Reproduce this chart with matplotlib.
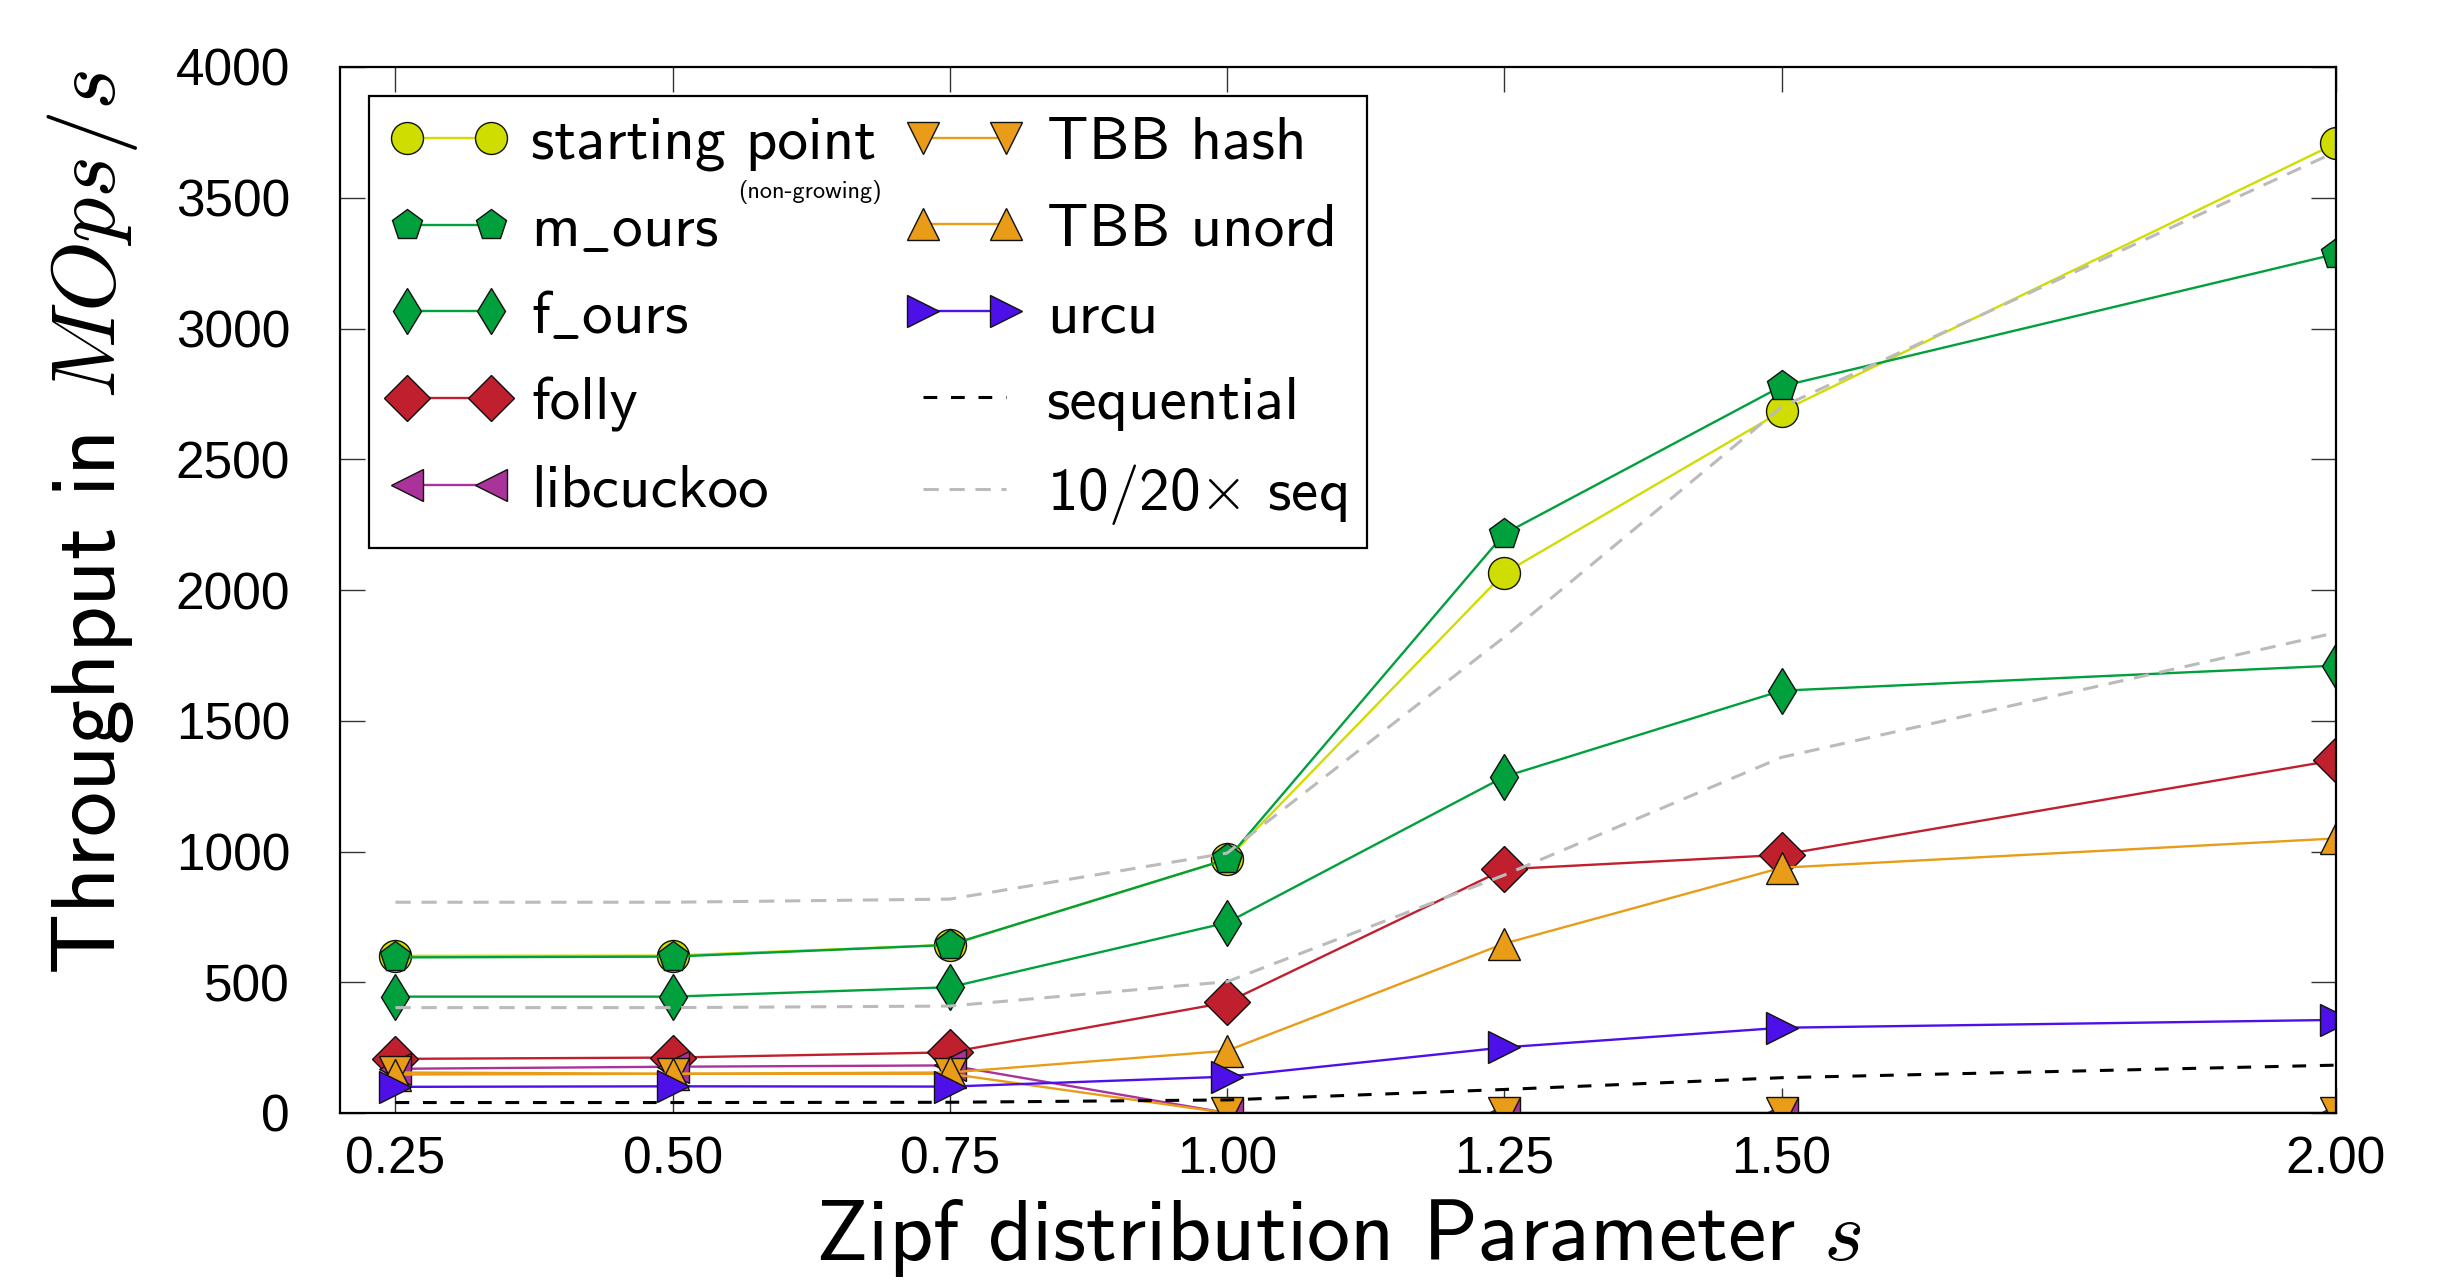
import matplotlib
matplotlib.use('Agg')
import matplotlib.pyplot as plt

plt.rcParams['font.family'] = ['cmss10', 'DejaVu Sans']
plt.rcParams['mathtext.fontset'] = 'cm'
plt.rcParams['axes.unicode_minus'] = False

# ---- data ----
zipf_s = [0.25, 0.50, 0.75, 1.00, 1.25, 1.50, 2.00]
x_tick_labels = ['0.25', '0.50', '0.75', '1.00', '1.25', '1.50', '2.00']
y_ticks = [0, 500, 1000, 1500, 2000, 2500, 3000, 3500, 4000]

starting_point = [601, 602, 643, 970, 2065, 2683, 3708]
m_ours = [595, 598, 643, 970, 2215, 2779, 3285]
f_ours = [445, 445, 481, 728, 1286, 1615, 1711]
folly = [207, 212, 232, 423, 932, 987, 1350]
libcuckoo = [169, 177, 182, 0, 0, 0, 0]
tbb_hash = [155, 150, 150, 0, 0, 0, 0]
tbb_unord = [147, 150, 155, 238, 648, 938, 1050]
urcu = [100, 102, 101, 139, 251, 326, 356]
sequential = [40, 40, 41, 50, 90, 135, 183]
seq_10x = [403, 403, 409, 502, 910, 1360, 1837]
seq_20x = [806, 806, 818, 994, 1820, 2700, 3676]

labels = ['starting point', r'm$\_$ours', r'f$\_$ours', 'folly', 'libcuckoo',
          'TBB hash', 'TBB unord', 'urcu', 'sequential', r'10/20$\times$ seq']

W, H = 2462, 1285
fig = plt.figure(figsize=(W / 100, H / 100), dpi=100)
ax = fig.add_axes([340 / W, 1 - 1113 / H, (2336 - 340) / W, (1113 - 67) / H])

ms = 23
lw = 1.7
mew = 1.0
series = [
    (starting_point, labels[0], 'o', '#d0dd00'),
    (m_ours, labels[1], 'p', '#00a03c'),
    (f_ours, labels[2], 'd', '#00a03c'),
    (folly, labels[3], 'D', '#c0202e'),
    (libcuckoo, labels[4], '<', '#aa3399'),
    (tbb_hash, labels[5], 'v', '#e89c18'),
    (tbb_unord, labels[6], '^', '#e89c18'),
    (urcu, labels[7], '>', '#4d10e8'),
]
for vals, lab, mk, col in series:
    ax.plot(zipf_s, vals, color=col, lw=lw, marker=mk, markersize=ms,
            markerfacecolor=col, markeredgecolor='#111111', markeredgewidth=mew,
            label=lab)

ax.plot(zipf_s, sequential, color='black', lw=2.2, linestyle=(0, (4.5, 4.5)),
        label=labels[8])
ax.plot(zipf_s, seq_10x, color='#bbbbbb', lw=2.2, linestyle=(0, (5, 3.5)),
        label=labels[9])
ax.plot(zipf_s, seq_20x, color='#bbbbbb', lw=2.2, linestyle=(0, (5, 3.5)),
        label='_nolegend_')

ax.set_xlim(0.2, 2.0)
ax.set_ylim(0, 4000)
ax.set_xticks(zipf_s)
ax.set_xticklabels(x_tick_labels)
ax.set_yticks(y_ticks)
ax.set_yticklabels([str(v) for v in y_ticks])
ax.tick_params(axis='both', which='major', direction='in', length=18, width=1.0,
               top=True, right=True, labelsize=37, labelfontfamily='Liberation Sans',
               color='#333333')
ax.tick_params(axis='x', pad=16)
ax.tick_params(axis='y', pad=36)
for sp in ax.spines.values():
    sp.set_linewidth(1.6)
    sp.set_color('black')

ax.set_xlabel('Zipf distribution Parameter $s$', fontsize=62)
ax.xaxis.set_label_coords(0.5, -0.08)
ax.set_ylabel('Throughput in $MOps/s$', fontsize=65)
ax.yaxis.set_label_coords(-0.1, 0.565)

leg = ax.legend(loc='upper left', bbox_to_anchor=(0.0145, 0.9723), borderaxespad=0,
                ncol=2, numpoints=2, fontsize=44, handlelength=1.96,
                handletextpad=0.36, columnspacing=0.47, borderpad=0.33,
                labelspacing=0.52, fancybox=False, framealpha=1, edgecolor='black')
leg.get_frame().set_linewidth(1.6)

fig.canvas.draw()
renderer = fig.canvas.get_renderer()
bb = leg.get_texts()[0].get_window_extent(renderer)
fig.text((bb.x1 + 6) / W, (bb.y0 - 9) / H, '(non-growing)', ha='right', va='top',
         fontsize=17.5)

fig.savefig('out.png', dpi=100)
